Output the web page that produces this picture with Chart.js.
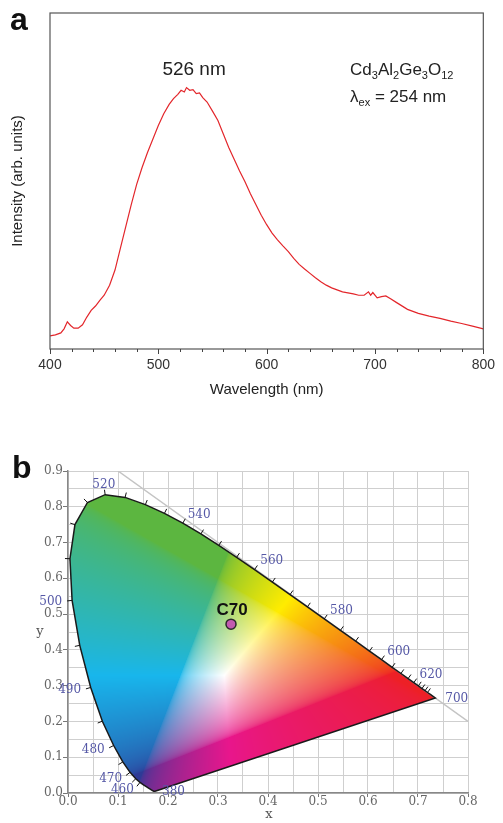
<!DOCTYPE html>
<html lang="en">
<head>
<meta charset="UTF-8">
<title>Cd3Al2Ge3O12 emission and CIE</title>
<script src="https://cdn.jsdelivr.net/npm/chart.js"></script>
<style>
  body { margin: 0; background: #fff; }
  #wrap { position: relative; width: 503px; height: 823px; }
  canvas { position: absolute; left: 0; }
  #specChart { top: 0; }
  #cieChart { top: 410px; }
</style>
</head>
<body>
<div id="wrap">
  <canvas id="specChart" width="503" height="410"></canvas>
  <canvas id="cieChart" width="503" height="413"></canvas>
</div>
<script>
// ---- panel a: emission spectrum (arb. units 0..1)
const wavelengths = [400,405,410,413,416,419,422,426,430,434,438,442,446,450,455,460,465,470,475,480,
  485,490,495,500,505,510,514,518,521,524,526,529,532,535,538,541,545,550,555,560,
  565,570,575,580,585,590,595,600,605,610,615,620,625,630,635,640,645,650,655,660,
  665,670,675,680,685,690,694,696,698,702,706,710,714,720,730,740,750,760,770,780,790,800];
const intensity = [0.039,0.042,0.048,0.060,0.081,0.070,0.062,0.062,0.072,0.095,0.115,0.128,0.145,0.160,0.190,0.235,0.300,0.365,0.430,0.490,
  0.540,0.585,0.625,0.665,0.700,0.728,0.745,0.758,0.770,0.765,0.778,0.770,0.772,0.760,0.762,0.748,0.735,0.708,0.680,0.640,
  0.600,0.565,0.530,0.498,0.462,0.430,0.398,0.370,0.345,0.325,0.307,0.290,0.270,0.252,0.238,0.225,0.212,0.200,0.190,0.182,
  0.176,0.170,0.167,0.164,0.160,0.160,0.170,0.160,0.168,0.152,0.156,0.158,0.150,0.138,0.118,0.106,0.098,0.091,0.083,0.076,0.068,0.060];
const peakLabel = '526 nm';
const peakNm = 526;

// ---- panel b: CIE 1931 spectral locus
const locusNm = [380,400,410,420,430,440,445,450,455,460,465,470,475,480,485,490,495,500,505,510,
  515,520,525,530,535,540,545,550,555,560,565,570,575,580,585,590,595,600,605,610,
  615,620,625,630,635,640,645,650,660,670,680,700];
const locusX = [0.1741,0.1733,0.1726,0.1714,0.1689,0.1644,0.1611,0.1566,0.1510,0.1440,0.1355,0.1241,0.1096,0.0913,0.0687,0.0454,0.0235,0.0082,0.0039,0.0139,
  0.0389,0.0743,0.1142,0.1547,0.1929,0.2296,0.2658,0.3016,0.3373,0.3731,0.4087,0.4441,0.4788,0.5125,0.5448,0.5752,0.6029,0.6270,0.6482,0.6658,
  0.6801,0.6915,0.7006,0.7079,0.7140,0.7190,0.7230,0.7260,0.7300,0.7320,0.7334,0.7347];
const locusY = [0.0050,0.0048,0.0050,0.0051,0.0069,0.0109,0.0138,0.0177,0.0227,0.0297,0.0399,0.0578,0.0868,0.1327,0.2007,0.2950,0.4127,0.5384,0.6548,0.7502,
  0.8120,0.8338,0.8262,0.8059,0.7816,0.7543,0.7243,0.6923,0.6589,0.6245,0.5896,0.5547,0.5202,0.4866,0.4544,0.4242,0.3965,0.3725,0.3514,0.3340,
  0.3197,0.3083,0.2993,0.2920,0.2859,0.2809,0.2770,0.2740,0.2700,0.2680,0.2666,0.2653];
const locusLabels = [380,460,470,480,490,500,520,540,560,580,600,620,700];
const sampleNames = ['C70'];
const sampleX = [0.326];
const sampleY = [0.472];
const diagX = [0.1, 0.8];
const diagY = [0.9, 0.2];
const whitePoint = [0.3127, 0.329];

const sans = '"Liberation Sans", Arial, sans-serif';
const serif = '"DejaVu Serif", "Liberation Serif", serif';

// ---------- panel a ----------
const specDecor = {
  id: 'specDecor',
  afterDatasetsDraw(chart) {
    const { ctx, chartArea: a, scales: { x, y } } = chart;
    ctx.save();
    ctx.strokeStyle = '#555';
    ctx.lineWidth = 1.2;
    ctx.strokeRect(a.left, a.top, a.right - a.left, a.bottom - a.top);
    // ticks under the axis, minor every 20 nm
    ctx.strokeStyle = '#444';
    ctx.lineWidth = 1;
    for (let v = 400; v <= 800; v += 20) {
      const px = Math.round(x.getPixelForValue(v)) + 0.5;
      const len = v % 100 === 0 ? 5 : 3;
      ctx.beginPath();
      ctx.moveTo(px, a.bottom);
      ctx.lineTo(px, a.bottom + len);
      ctx.stroke();
    }
    ctx.fillStyle = '#222';
    ctx.textAlign = 'center';
    ctx.font = '19px ' + sans;
    ctx.fillText(peakLabel, x.getPixelForValue(peakNm + 7), y.getPixelForValue(0.815));

    // formula with subscripts
    const parts = [['Cd', 0], ['3', 1], ['Al', 0], ['2', 1], ['Ge', 0], ['3', 1], ['O', 0], ['12', 1]];
    let tx = x.getPixelForValue(677);
    const ty = y.getPixelForValue(0.815);
    ctx.textAlign = 'left';
    for (const [t, sub] of parts) {
      ctx.font = (sub ? '11px ' : '17px ') + sans;
      ctx.fillText(t, tx, sub ? ty + 4 : ty);
      tx += ctx.measureText(t).width;
    }
    const parts2 = [['\u03bb', 0], ['ex', 1], [' = 254 nm', 0]];
    tx = x.getPixelForValue(677);
    const ty2 = y.getPixelForValue(0.735);
    for (const [t, sub] of parts2) {
      ctx.font = (sub ? '11px ' : '17px ') + sans;
      ctx.fillText(t, tx, sub ? ty2 + 4 : ty2);
      tx += ctx.measureText(t).width;
    }
    ctx.font = 'bold 32px ' + sans;
    ctx.fillStyle = '#111';
    ctx.fillText('a', 10, 30);
    ctx.restore();
  }
};

new Chart(document.getElementById('specChart'), {
  type: 'scatter',
  data: {
    datasets: [{
      data: wavelengths.map((w, i) => ({ x: w, y: intensity[i] })),
      showLine: true,
      borderColor: '#e3262b',
      borderWidth: 1.2,
      pointRadius: 0
    }]
  },
  options: {
    responsive: false,
    animation: false,
    devicePixelRatio: 1,
    layout: { padding: { top: 13, right: 12, left: 0, bottom: 0 } },
    plugins: { legend: { display: false }, tooltip: { enabled: false } },
    scales: {
      x: {
        min: 400, max: 800,
        grid: { display: false, drawTicks: false },
        border: { display: false },
        ticks: { stepSize: 100, padding: 8, color: '#333', font: { family: sans, size: 14 } },
        title: { display: true, text: 'Wavelength (nm)', color: '#222', font: { family: sans, size: 15 }, padding: { top: 0, bottom: 11 } },
        afterFit: s => { s.height = 61; }
      },
      y: {
        min: 0, max: 1,
        grid: { display: false },
        border: { display: false },
        ticks: { display: false },
        title: { display: true, text: 'Intensity (arb. units)', color: '#222', font: { family: sans, size: 15 }, padding: { top: 9, bottom: 0 } },
        afterFit: s => { s.width = 50; }
      }
    }
  },
  plugins: [specDecor]
});

// ---------- panel b ----------
// trilinear map from sRGB cube corners to print-like corner colours
const corners = {
  k: [40, 40, 40], r: [237, 32, 38], g: [92, 182, 64], b: [46, 58, 150],
  yl: [255, 236, 0], c: [24, 182, 236], m: [232, 22, 140], w: [255, 255, 255]
};
function printColor(r, g, b) {
  const out = [0, 0, 0];
  const w = [
    [(1 - r) * (1 - g) * (1 - b), corners.k], [r * (1 - g) * (1 - b), corners.r],
    [(1 - r) * g * (1 - b), corners.g], [(1 - r) * (1 - g) * b, corners.b],
    [r * g * (1 - b), corners.yl], [(1 - r) * g * b, corners.c],
    [r * (1 - g) * b, corners.m], [r * g * b, corners.w]
  ];
  for (const [f, col] of w) for (let k = 0; k < 3; k++) out[k] += f * col[k];
  return out;
}
function gam(v) { return v <= 0.0031308 ? 12.92 * v : 1.055 * Math.pow(v, 1 / 2.4) - 0.055; }
function xyToRgb(cx, cy) {
  const X = cx / cy, Y = 1, Z = (1 - cx - cy) / cy;
  let r = 3.2406 * X - 1.5372 * Y - 0.4986 * Z;
  let g = -0.9689 * X + 1.8758 * Y + 0.0415 * Z;
  let b = 0.0557 * X - 0.2040 * Y + 1.0570 * Z;
  r = Math.max(r, 0); g = Math.max(g, 0); b = Math.max(b, 0);
  const m = Math.max(r, g, b) || 1;
  return printColor(gam(r / m), gam(g / m), gam(b / m));
}

function locusPath(ctx, x, y) {
  ctx.beginPath();
  locusX.forEach((v, i) => {
    const px = x.getPixelForValue(v), py = y.getPixelForValue(locusY[i]);
    if (i === 0) ctx.moveTo(px, py); else ctx.lineTo(px, py);
  });
  ctx.closePath();
}

const cieFill = {
  id: 'cieFill',
  beforeDatasetsDraw(chart) {
    const { ctx, chartArea: a, scales: { x, y } } = chart;
    const w = Math.ceil(a.right - a.left), h = Math.ceil(a.bottom - a.top);
    const off = document.createElement('canvas');
    off.width = w; off.height = h;
    const octx = off.getContext('2d');
    const img = octx.createImageData(w, h);
    for (let j = 0; j < h; j++) {
      const cy = y.getValueForPixel(a.top + j + 0.5);
      for (let i = 0; i < w; i++) {
        const cx = x.getValueForPixel(a.left + i + 0.5);
        const p = (j * w + i) * 4;
        if (cy <= 0.002) continue;
        const c = xyToRgb(cx, cy);
        img.data[p] = c[0]; img.data[p + 1] = c[1]; img.data[p + 2] = c[2]; img.data[p + 3] = 255;
      }
    }
    octx.putImageData(img, 0, 0);
    ctx.save();
    locusPath(ctx, x, y);
    ctx.clip();
    ctx.drawImage(off, a.left, a.top);
    ctx.restore();
  }
};

const cieDecor = {
  id: 'cieDecor',
  afterDatasetsDraw(chart) {
    const { ctx, chartArea: a, scales: { x, y } } = chart;
    const pts = locusX.map((v, i) => [x.getPixelForValue(v), y.getPixelForValue(locusY[i])]);
    const wp = [x.getPixelForValue(whitePoint[0]), y.getPixelForValue(whitePoint[1])];
    const normalAt = i => {
      const p = pts[i];
      let n;
      if (i === 0 || i === pts.length - 1) {
        n = [p[0] - wp[0], p[1] - wp[1]];
      } else {
        const t = [pts[i + 1][0] - pts[i - 1][0], pts[i + 1][1] - pts[i - 1][1]];
        n = [-t[1], t[0]];
        if (n[0] * (p[0] - wp[0]) + n[1] * (p[1] - wp[1]) < 0) n = [-n[0], -n[1]];
      }
      const l = Math.hypot(n[0], n[1]);
      return [n[0] / l, n[1] / l];
    };
    ctx.save();
    // small marks along the locus every 5 nm
    ctx.strokeStyle = '#111';
    ctx.lineWidth = 1;
    locusNm.forEach((nm, i) => {
      if (nm < 460 || nm > 640 || nm % 5) return;
      const n = normalAt(i), p = pts[i];
      ctx.beginPath();
      ctx.moveTo(p[0], p[1]);
      ctx.lineTo(p[0] + n[0] * 5, p[1] + n[1] * 5);
      ctx.stroke();
    });
    // wavelength labels
    ctx.fillStyle = '#5558a6';
    ctx.font = '12px ' + serif;
    ctx.textBaseline = 'middle';
    locusLabels.forEach(nm => {
      const i = locusNm.indexOf(nm);
      let n = normalAt(i), d = 10;
      if (nm === 380) { n = [1, 0.15]; d = 7; }
      const p = pts[i];
      ctx.textAlign = n[0] > 0.35 ? 'left' : (n[0] < -0.35 ? 'right' : 'center');
      ctx.fillText(String(nm), p[0] + n[0] * d, p[1] + n[1] * d);
    });
    // sample names
    ctx.fillStyle = '#111';
    ctx.font = 'bold 17px ' + sans;
    ctx.textAlign = 'center';
    ctx.textBaseline = 'alphabetic';
    sampleNames.forEach((s, i) => {
      ctx.fillText(s, x.getPixelForValue(sampleX[i]) + 1, y.getPixelForValue(sampleY[i]) - 9);
    });
    // axis letters
    ctx.fillStyle = '#555';
    ctx.font = '13px ' + serif;
    ctx.textBaseline = 'middle';
    ctx.fillText('x', x.getPixelForValue(0.4) + 1, a.bottom + 22);
    ctx.fillText('y', a.left - 28, y.getPixelForValue(0.45));
    ctx.fillStyle = '#111';
    ctx.font = 'bold 32px ' + sans;
    ctx.textAlign = 'left';
    ctx.textBaseline = 'alphabetic';
    ctx.fillText('b', 12, 68);
    ctx.restore();
  }
};

const isTenth = v => Math.round(v * 100) % 10 === 0;

new Chart(document.getElementById('cieChart'), {
  type: 'scatter',
  data: {
    datasets: [{
      data: sampleX.map((v, i) => ({ x: v, y: sampleY[i] })),
      pointRadius: 5,
      pointBackgroundColor: '#c25bb0',
      pointBorderColor: '#2a2a2a',
      pointBorderWidth: 1.5,
      order: 1
    }, {
      data: locusX.map((v, i) => ({ x: v, y: locusY[i] })).concat([{ x: locusX[0], y: locusY[0] }]),
      showLine: true,
      borderColor: '#1a1a1a',
      borderWidth: 1.5,
      pointRadius: 0,
      order: 2
    }, {
      data: diagX.map((v, i) => ({ x: v, y: diagY[i] })),
      showLine: true,
      borderColor: '#c4c4c4',
      borderWidth: 1.5,
      pointRadius: 0,
      order: 3
    }]
  },
  options: {
    responsive: false,
    animation: false,
    devicePixelRatio: 1,
    layout: { padding: { top: 61, right: 35, left: 0, bottom: 0 } },
    plugins: { legend: { display: false }, tooltip: { enabled: false } },
    scales: {
      x: {
        min: 0, max: 0.8,
        grid: { color: '#cfcfcf', lineWidth: 1, tickLength: 4, tickColor: c => isTenth(c.tick.value) ? '#777' : 'rgba(0,0,0,0)' },
        border: { color: '#888', width: 1.5 },
        ticks: { stepSize: 0.05, autoSkip: false, maxRotation: 0, padding: -2, color: '#666',
          font: { family: serif, size: 12 },
          callback: v => isTenth(v) ? v.toFixed(1) : '' },
        afterFit: s => { s.height = 30; }
      },
      y: {
        min: 0, max: 0.9,
        grid: { color: '#cfcfcf', lineWidth: 1, tickLength: 5, tickColor: c => isTenth(c.tick.value) ? '#777' : 'rgba(0,0,0,0)' },
        border: { color: '#888', width: 1.5 },
        ticks: { stepSize: 0.05, autoSkip: false, padding: 0, color: '#666',
          font: { family: serif, size: 12 },
          callback: v => isTenth(v) ? v.toFixed(1) : '' },
        afterFit: s => { s.width = 68; }
      }
    }
  },
  plugins: [cieFill, cieDecor]
});
</script>
</body>
</html>
